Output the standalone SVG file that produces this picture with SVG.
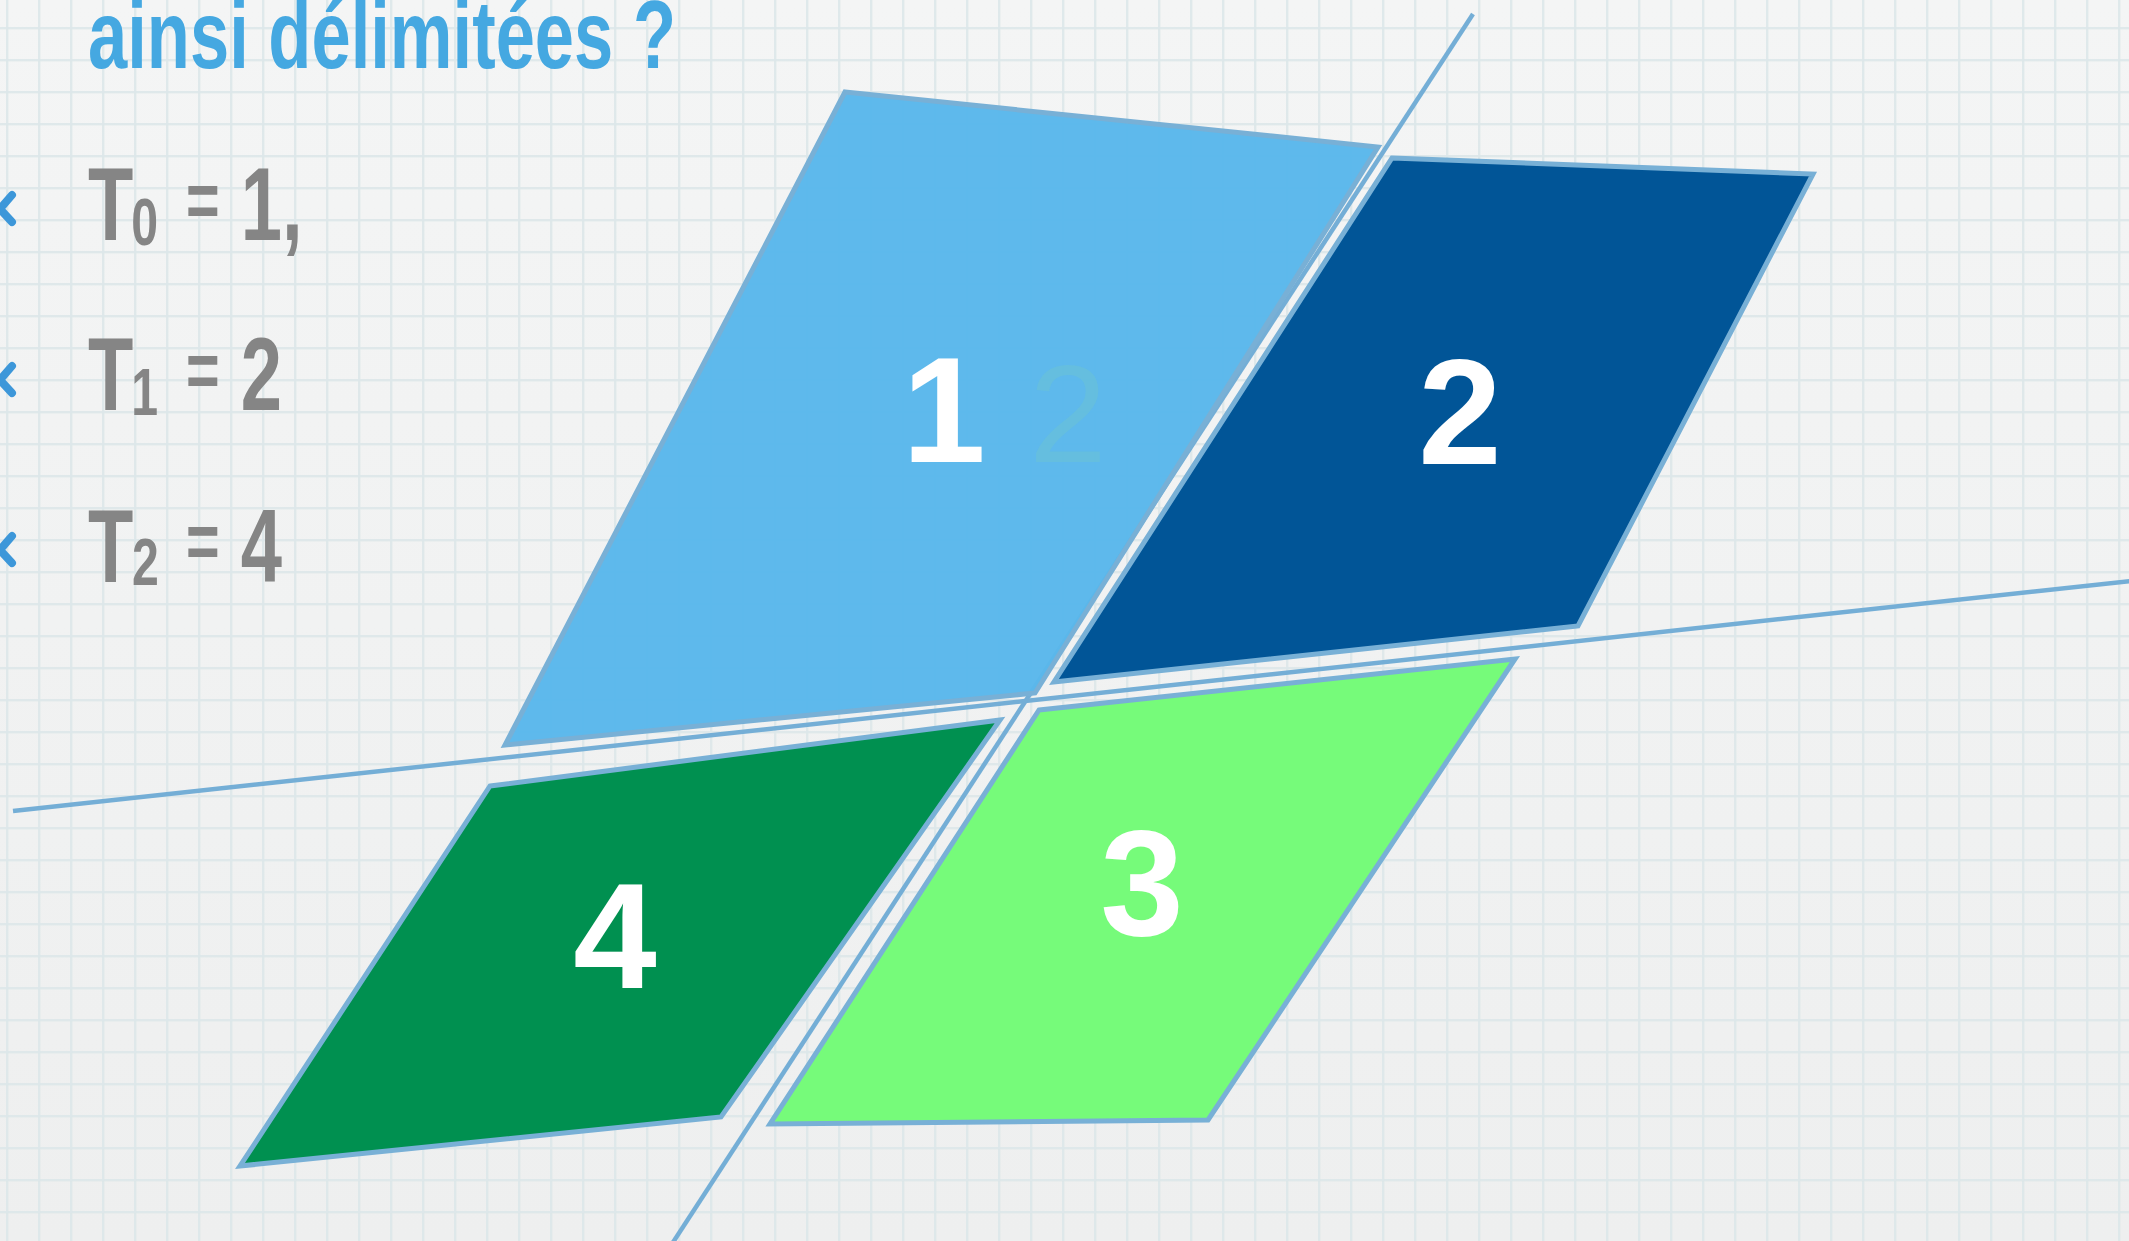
<svg xmlns="http://www.w3.org/2000/svg" width="2129" height="1241" viewBox="0 0 2129 1241">
<defs>
<linearGradient id="bg" x1="0" y1="0" x2="0" y2="1">
<stop offset="0" stop-color="#F4F5F5"/>
<stop offset="1" stop-color="#EEEFEF"/>
</linearGradient>
<pattern id="grid" patternUnits="userSpaceOnUse" x="6" y="27" width="32" height="32">
<rect x="0" y="0" width="2.4" height="32" fill="#DCE6E9" fill-opacity="0.85"/>
<rect x="0" y="0" width="32" height="2.4" fill="#DCE6E9" fill-opacity="0.85"/>
</pattern>
<style>
.line{stroke:#74AED6;stroke-width:4.5;fill:none;stroke-linecap:butt}
.poly{stroke:#78B0D6;stroke-width:5;stroke-linejoin:miter}
.num{font-family:"Liberation Sans",Arial,sans-serif;font-weight:bold;font-size:150px;fill:#FFFFFF;text-anchor:middle}
.gray{font-family:"Liberation Sans",Arial,sans-serif;font-weight:bold;font-size:103px;fill:#858585}
.title{font-family:"Liberation Sans",Arial,sans-serif;font-weight:bold;font-size:96px;fill:#45A8E1}
.bullet{stroke:#3D97D9;stroke-width:8;fill:none;stroke-linecap:round;stroke-linejoin:round}
</style>
</defs>
<rect x="0" y="0" width="2129" height="1241" fill="url(#bg)"/>
<rect x="0" y="0" width="2129" height="1241" fill="url(#grid)"/>

<g id="heading">
<text class="title" x="88" y="68" textLength="588" lengthAdjust="spacingAndGlyphs">ainsi délimitées ?</text>
</g>

<g id="list">
<polyline class="bullet" points="12,195 0,209 12,222"/>
<polyline class="bullet" points="12,366 0,380 12,393"/>
<polyline class="bullet" points="12,536 0,550 12,563"/>
<text class="gray" transform="translate(88,240) scale(0.72,1)"><tspan x="0" y="0">T</tspan><tspan x="60" y="5" font-size="67">0</tspan> <tspan x="136" y="-13" font-size="80">=</tspan> <tspan x="212" y="0">1,</tspan></text>
<text class="gray" transform="translate(88,410) scale(0.72,1)"><tspan x="0" y="0">T</tspan><tspan x="60" y="5" font-size="67">1</tspan> <tspan x="136" y="-13" font-size="80">=</tspan> <tspan x="212" y="0">2</tspan></text>
<text class="gray" transform="translate(88,582) scale(0.72,1)"><tspan x="0" y="0">T</tspan><tspan x="61" y="3" font-size="67">2</tspan> <tspan x="136" y="-14" font-size="80">=</tspan> <tspan x="212" y="0">4</tspan></text>
</g>

<g id="connectors">
<line class="line" x1="1473" y1="14" x2="668" y2="1250"/>
<line class="line" x1="13" y1="811" x2="2140" y2="580"/>
</g>

<g id="region-1">
<polygon class="poly" points="845,92 1378,147 1035,693 505,745" fill="#59B7EB" fill-opacity="0.97"/>
<text x="1068" y="462" font-family="Liberation Sans, Arial, sans-serif" font-size="140" fill="#66BFDC" fill-opacity="0.8" text-anchor="middle">2</text>
<text class="num" x="944" y="462">1</text>
</g>

<g id="region-2">
<polygon class="poly" points="1392,158 1813,174 1578,626 1054,682" fill="#015597"/>
<text class="num" x="1460" y="464">2</text>
</g>

<g id="region-3">
<polygon class="poly" points="1039,710 1515,659 1208,1120 770,1124" fill="#76FB7A"/>
<text class="num" x="1142" y="935">3</text>
</g>

<g id="region-4">
<polygon class="poly" points="490,786 1000,720 721,1117 240,1166" fill="#009050"/>
<text class="num" x="615" y="988">4</text>
</g>
</svg>
